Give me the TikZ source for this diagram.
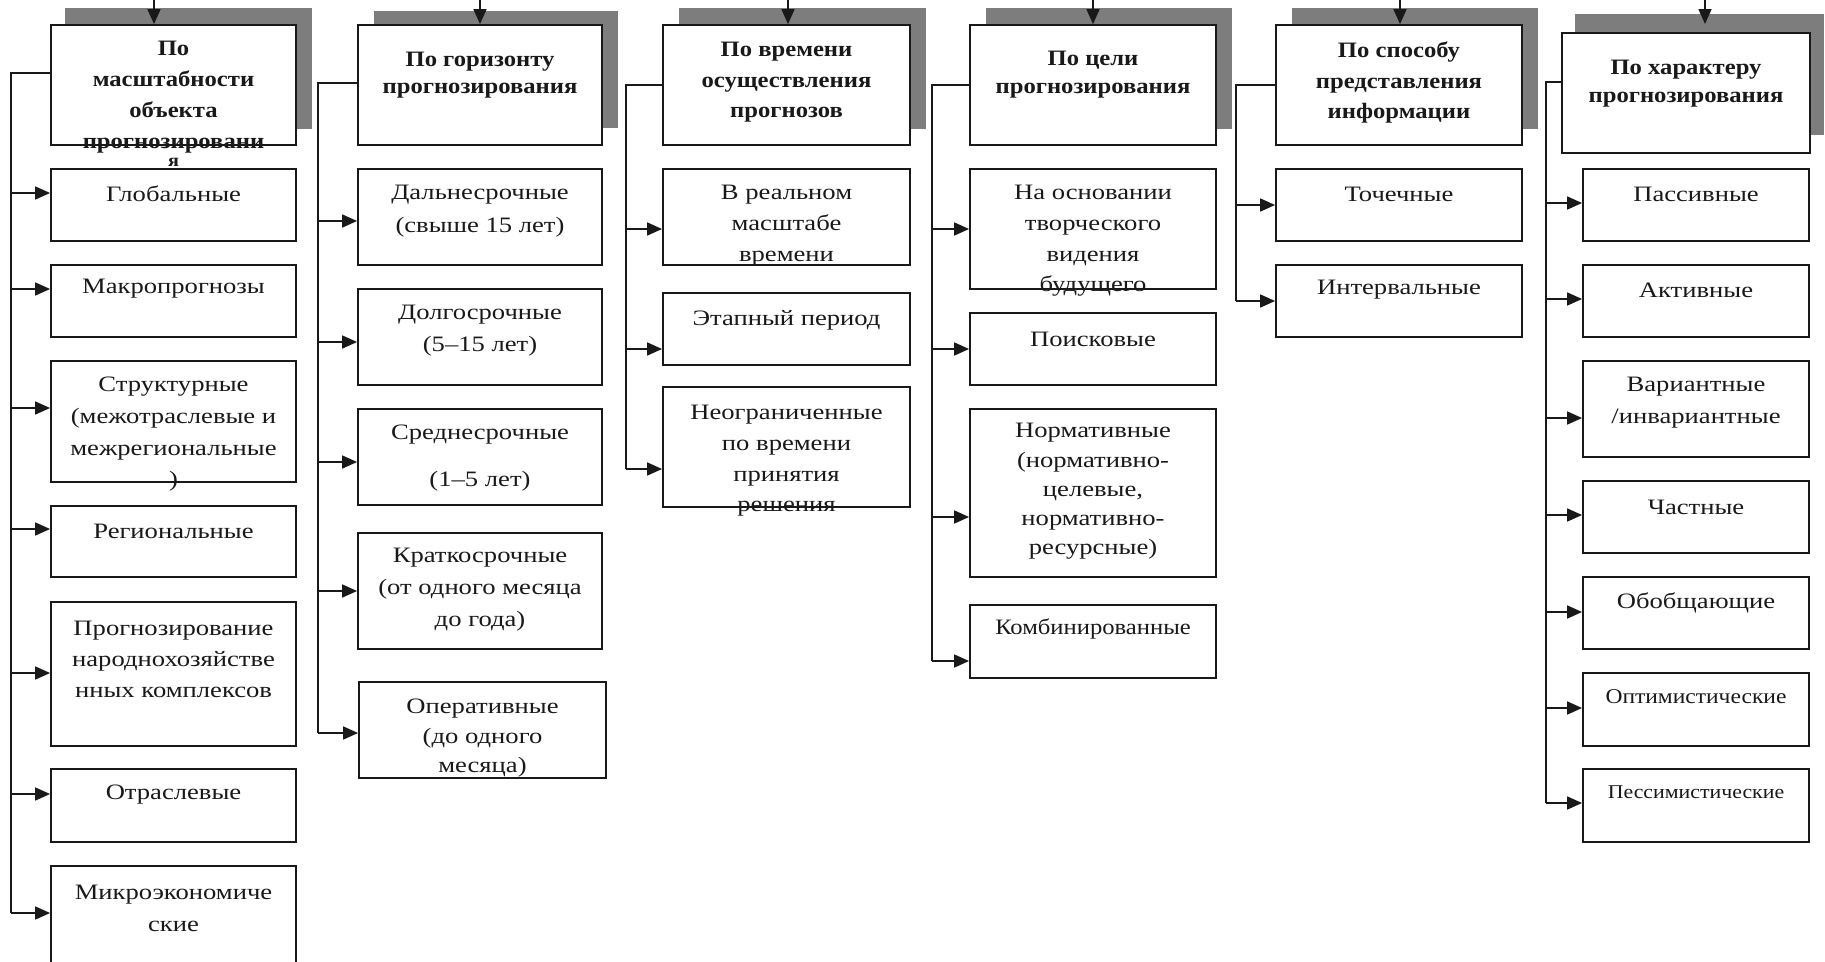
\documentclass[tikz,border=0pt]{standalone}
\usepackage{fontspec}
\setmainfont{Liberation Serif}[FakeStretch=1.21]
\newfontfamily\nf{Liberation Serif}[FakeStretch=1.12]
\usetikzlibrary{arrows.meta}
\definecolor{ln}{RGB}{25,25,25}
\definecolor{shd}{RGB}{125,125,125}
\tikzset{
  box/.style={draw=ln,line width=1.8pt,fill=white,inner sep=0pt,rectangle},
  shadowbox/.style={fill=shd,draw=none,inner sep=0pt,rectangle},
  conn/.style={draw=ln,line width=1.6pt},
  arr/.style={conn,-{Triangle[length=15pt,width=13pt]}},
  txt/.style={font={\fontsize{22}{31}\selectfont},align=center,inner sep=0pt,text=ln},
  hdr/.style={font={\nf\fontsize{22}{31}\selectfont\bfseries},align=center,inner sep=0pt,text=ln},
}
\newcommand\mkbox[6]{\node[#1,minimum width={(#4)-(#2)},minimum height={(#5)-(#3)}] (#6) at ({((#2)+(#4))/2},{((#3)+(#5))/2}) {};}
\begin{document}
\begin{tikzpicture}[x=1pt,y=-1pt]
\useasboundingbox (0,0) rectangle (1825,961);
\clip (0,0) rectangle (1825,961);
\fill[white] (0,0) rectangle (1825,961);
% shadows
\mkbox{shadowbox}{65}{8}{312}{129}{s1}
\mkbox{shadowbox}{374}{11}{618}{128}{s2}
\mkbox{shadowbox}{679}{8}{926}{129}{s3}
\mkbox{shadowbox}{986}{8}{1232}{129}{s4}
\mkbox{shadowbox}{1292}{8}{1538}{129}{s5}
\mkbox{shadowbox}{1575}{14}{1824}{135}{s6}
% headers
\mkbox{box}{51}{25}{296}{145}{h1}
\mkbox{box}{358}{25}{602}{145}{h2}
\mkbox{box}{663}{25}{910}{145}{h3}
\mkbox{box}{970}{25}{1216}{145}{h4}
\mkbox{box}{1276}{25}{1522}{145}{h5}
\mkbox{box}{1562}{33}{1810}{153}{h6}
% column 1
\mkbox{box}{51}{169}{296}{241}{c11}
\mkbox{box}{51}{265}{296}{337}{c12}
\mkbox{box}{51}{361}{296}{482}{c13}
\mkbox{box}{51}{506}{296}{577}{c14}
\mkbox{box}{51}{602}{296}{746}{c15}
\mkbox{box}{51}{769}{296}{842}{c16}
\mkbox{box}{51}{866}{296}{975}{c17}
% column 2
\mkbox{box}{358}{169}{602}{265}{c21}
\mkbox{box}{358}{289}{602}{385}{c22}
\mkbox{box}{358}{409}{602}{505}{c23}
\mkbox{box}{358}{533}{602}{649}{c24}
\mkbox{box}{359}{682}{606}{778}{c25}
% column 3
\mkbox{box}{663}{169}{910}{265}{c31}
\mkbox{box}{663}{293}{910}{365}{c32}
\mkbox{box}{663}{387}{910}{507}{c33}
% column 4
\mkbox{box}{970}{169}{1216}{289}{c41}
\mkbox{box}{970}{313}{1216}{385}{c42}
\mkbox{box}{970}{409}{1216}{577}{c43}
\mkbox{box}{970}{605}{1216}{678}{c44}
% column 5
\mkbox{box}{1276}{169}{1522}{241}{c51}
\mkbox{box}{1276}{265}{1522}{337}{c52}
% column 6
\mkbox{box}{1583}{169}{1809}{241}{c61}
\mkbox{box}{1583}{265}{1809}{337}{c62}
\mkbox{box}{1583}{361}{1809}{457}{c63}
\mkbox{box}{1583}{481}{1809}{553}{c64}
\mkbox{box}{1583}{577}{1809}{649}{c65}
\mkbox{box}{1583}{673}{1809}{746}{c66}
\mkbox{box}{1583}{769}{1809}{842}{c67}

% top arrows
\coordinate (top1) at (154,0);
\coordinate (top2) at (480,0);
\coordinate (top3) at (788,0);
\coordinate (top4) at (1093,0);
\coordinate (top5) at (1400,0);
\coordinate (top6) at (1705,0);
\coordinate (tip6) at (1705,24);
\draw[arr] (top1) -- (top1 |- h1.north);
\draw[arr] (top2) -- (top2 |- h2.north);
\draw[arr] (top3) -- (top3 |- h3.north);
\draw[arr] (top4) -- (top4 |- h4.north);
\draw[arr] (top5) -- (top5 |- h5.north);
\draw[arr] (top6) -- (tip6);

% trunks
\coordinate (k1) at (11,73);
\coordinate (k2) at (318,83);
\coordinate (k3) at (626,85);
\coordinate (k4) at (932,85);
\coordinate (k5) at (1236,85);
\coordinate (k6) at (1546,82);
% arrow levels
\foreach \n/\y in {11/193,12/289,13/408,14/529,15/673,16/794,17/913,
                   21/221,22/342,23/462,24/591,25/733,
                   31/229,32/349,33/469,
                   41/229,42/349,43/517,44/661,
                   51/205,52/301,
                   61/203,62/299,63/418,64/515,65/612,66/708,67/803}
  {\coordinate (a\n) at (0,\y);}
\draw[conn] (h1.west |- k1) -- (k1) -- (k1 |- a17);
\draw[conn] (h2.west |- k2) -- (k2) -- (k2 |- a25);
\draw[conn] (h3.west |- k3) -- (k3) -- (k3 |- a33);
\draw[conn] (h4.west |- k4) -- (k4) -- (k4 |- a44);
\draw[conn] (h5.west |- k5) -- (k5) -- (k5 |- a52);
\draw[conn] (h6.west |- k6) -- (k6) -- (k6 |- a67);
\foreach \c/\k in {11/1,12/1,13/1,14/1,15/1,16/1,17/1,
                   21/2,22/2,23/2,24/2,25/2,
                   31/3,32/3,33/3,
                   41/4,42/4,43/4,44/4,
                   51/5,52/5,
                   61/6,62/6,63/6,64/6,65/6,66/6,67/6}
  {\draw[arr] (k\k |- a\c) -- (c\c.west |- a\c);}

% header texts
\node[hdr] (th1) at (173.5,97) {По\\масштабности\\объекта\\прогнозировани};
\node[hdr,font={\nf\fontsize{18}{20}\selectfont\bfseries}] (th1b) at (173.5,162) {я};
\node[hdr,font={\nf\fontsize{22}{27}\selectfont\bfseries}] (th2) at (480,75.5) {По горизонту\\прогнозирования};
\node[hdr,font={\nf\fontsize{22}{30.5}\selectfont\bfseries}] (th3) at (786.5,82.5) {По времени\\осуществления\\прогнозов};
\node[hdr,font={\nf\fontsize{22}{28}\selectfont\bfseries}] (th4) at (1093,75) {По цели\\прогнозирования};
\node[hdr,font={\nf\fontsize{22}{30.5}\selectfont\bfseries}] (th5) at (1399,82.5) {По способу\\представления\\информации};
\node[hdr,font={\nf\fontsize{22}{28}\selectfont\bfseries}] (th6) at (1686,84) {По характеру\\прогнозирования};

% column 1 texts
\node[txt] (t11) at (173.5,194) {Глобальные};
\node[txt] (t12) at (173.5,289) {Макропрогнозы};
\node[txt,font={\fontsize{22}{31.7}\selectfont}] (t13) at (173.5,434.5) {Структурные\\(межотраслевые и\\межрегиональные\\)};
\node[txt] (t14) at (173.5,531) {Региональные};
\node[txt] (t15) at (173.5,659) {Прогнозирование\\народнохозяйстве\\нных комплексов};
\node[txt] (t16) at (173.5,795) {Отраслевые};
\node[txt,font={\fontsize{22}{32}\selectfont}] (t17) at (173.5,908) {Микроэкономиче\\ские};
% column 2 texts
\node[txt,font={\fontsize{22}{33}\selectfont}] (t21) at (480,211.5) {Дальнесрочные\\(свыше 15 лет)};
\node[txt,font={\fontsize{22}{32}\selectfont}] (t22) at (480,331) {Долгосрочные\\(5–15 лет)};
\node[txt,font={\fontsize{22}{47}\selectfont}] (t23) at (480,458.5) {Среднесрочные\\(1–5 лет)};
\node[txt,font={\fontsize{22}{32}\selectfont}] (t24) at (480,590) {Краткосрочные\\(от одного месяца\\до года)};
\node[txt,font={\fontsize{22}{29.5}\selectfont}] (t25) at (482.5,738.5) {Оперативные\\(до одного\\месяца)};
% column 3 texts
\node[txt] (t31) at (786.5,226) {В реальном\\масштабе\\времени};
\node[txt] (t32) at (786.5,320) {Этапный период};
\node[txt,font={\fontsize{22}{30.7}\selectfont}] (t33) at (786.5,461) {Неограниченные\\по времени\\принятия\\решения};
% column 4 texts
\node[txt,font={\fontsize{22}{30.7}\selectfont}] (t41) at (1093,241) {На основании\\творческого\\видения\\будущего};
\node[txt] (t42) at (1093,339) {Поисковые};
\node[txt,font={\fontsize{22}{29.25}\selectfont}] (t43) at (1093,491.5) {Нормативные\\(нормативно-\\целевые,\\нормативно-\\ресурсные)};
\node[txt,font={\nf\fontsize{22}{31}\selectfont}] (t44) at (1093,629) {Комбинированные};
% column 5 texts
\node[txt] (t51) at (1399,194) {Точечные};
\node[txt] (t52) at (1399,290) {Интервальные};
% column 6 texts
\node[txt] (t61) at (1696,194) {Пассивные};
\node[txt] (t62) at (1696,290) {Активные};
\node[txt,font={\fontsize{22}{32}\selectfont}] (t63) at (1696,403) {Вариантные\\/инвариантные};
\node[txt] (t64) at (1696,507) {Частные};
\node[txt] (t65) at (1696,603) {Обобщающие};
\node[txt,font={\nf\fontsize{21}{26}\selectfont}] (t66) at (1696,697) {Оптимистические};
\node[txt,font={\nf\fontsize{19.5}{26}\selectfont}] (t67) at (1696,792) {Пессимистические};
\end{tikzpicture}
\end{document}
